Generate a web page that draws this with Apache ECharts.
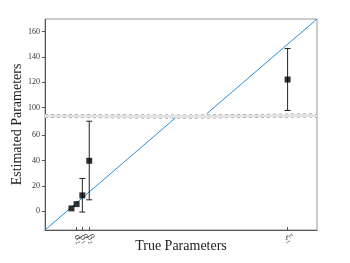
<!DOCTYPE html>
<html><head><meta charset="utf-8">
<script src="https://cdn.jsdelivr.net/npm/echarts@6/dist/echarts.min.js"></script>
<style>html,body{margin:0;padding:0;background:#fff}#c{width:350px;height:263px}</style>
</head><body><div id="c"></div>
<script>
// data
const trueVals = [3, 6.5, 10.4, 15.1, 150];
const estVals = [2.1, 5.5, 12.4, 39.8, 122.1];
const errLow = [2.1, 5.5, -0.8, 8.9, 97.6];
const errHigh = [2.1, 5.5, 25.8, 71.1, 146.6];
const xTickLabels = ['α₁', 'α₂', 'β₁', 'β₂', 'ξ₁'];
const yTickValues = [0, 20, 40, 60, 100, 120, 140, 160];
const identityLow = [[-15, -15], [74, 74]];
const identityHigh = [[95, 95], [170, 170]];

const points = trueVals.map((x, i) => [x, estVals[i]]);
const bars = trueVals.map((x, i) => [x, errLow[i], errHigh[i]]);

const chart = echarts.init(document.getElementById('c'), null, {renderer: 'canvas'});
const serif = 'Liberation Serif, DejaVu Serif, serif';
chart.setOption({
  animation: false,
  grid: {left: 45, right: 33, top: 19, bottom: 33, show: true, borderColor: '#999', borderWidth: 1,
    containLabel: false, outerBoundsMode: 'none'},
  xAxis: {
    type: 'value', min: -15, max: 170,
    name: 'True Parameters', nameLocation: 'middle', nameGap: 9, nameMoveOverlap: false,
    nameTextStyle: {fontFamily: serif, fontSize: 14, color: '#222'},
    axisLine: {onZero: false, lineStyle: {color: '#555'}},
    axisTick: {inside: true, length: 3, customValues: trueVals, lineStyle: {color: '#555'}},
    axisLabel: {customValues: trueVals, rotate: -60, fontSize: 10, fontFamily: serif, color: '#444', margin: 5,
      hideOverlap: false, formatter: v => xTickLabels[trueVals.indexOf(v)] || ''},
    splitLine: {show: false}
  },
  yAxis: {
    type: 'value', min: -15, max: 170,
    name: 'Estimated Parameters', nameLocation: 'middle', nameGap: 21, nameMoveOverlap: false,
    nameTextStyle: {fontFamily: serif, fontSize: 14, color: '#222'},
    axisLine: {show: true, onZero: false, lineStyle: {color: '#555'}},
    axisTick: {show: true, length: 3, customValues: yTickValues, lineStyle: {color: '#555'}},
    axisLabel: {customValues: yTickValues, fontSize: 8, fontFamily: serif, color: '#333', margin: 5},
    splitLine: {show: false},
    breaks: [{start: 74, end: 95, gap: 3}],
    breakArea: {
      show: true,
      itemStyle: {color: '#e3e3e3', borderColor: '#888', borderWidth: 1, opacity: 1},
      zigzagAmplitude: 0.6, zigzagMinSpan: 120, zigzagMaxSpan: 160, zigzagZ: 100, expandOnClick: false
    }
  },
  series: [
    {type: 'line', data: identityLow, symbol: 'none', lineStyle: {color: '#2a8fd6', width: 1}, z: 2},
    {type: 'line', data: identityHigh, symbol: 'none', lineStyle: {color: '#2a8fd6', width: 1}, z: 2},
    {type: 'custom', data: bars, z: 3,
      renderItem: (params, api) => {
        const x = api.value(0);
        const lo = api.coord([x, api.value(1)]);
        const hi = api.coord([x, api.value(2)]);
        if (Math.abs(lo[1] - hi[1]) < 1) return {type: 'group', children: []};
        const st = {stroke: '#222', lineWidth: 1};
        return {type: 'group', children: [
          {type: 'line', shape: {x1: lo[0], y1: lo[1], x2: hi[0], y2: hi[1]}, style: st},
          {type: 'line', shape: {x1: lo[0] - 3, y1: lo[1], x2: lo[0] + 3, y2: lo[1]}, style: st},
          {type: 'line', shape: {x1: hi[0] - 3, y1: hi[1], x2: hi[0] + 3, y2: hi[1]}, style: st}
        ]};
      }},
    {type: 'scatter', data: points, symbol: 'rect', symbolSize: 6, itemStyle: {color: '#000'}, z: 4}
  ]
});
</script></body></html>
